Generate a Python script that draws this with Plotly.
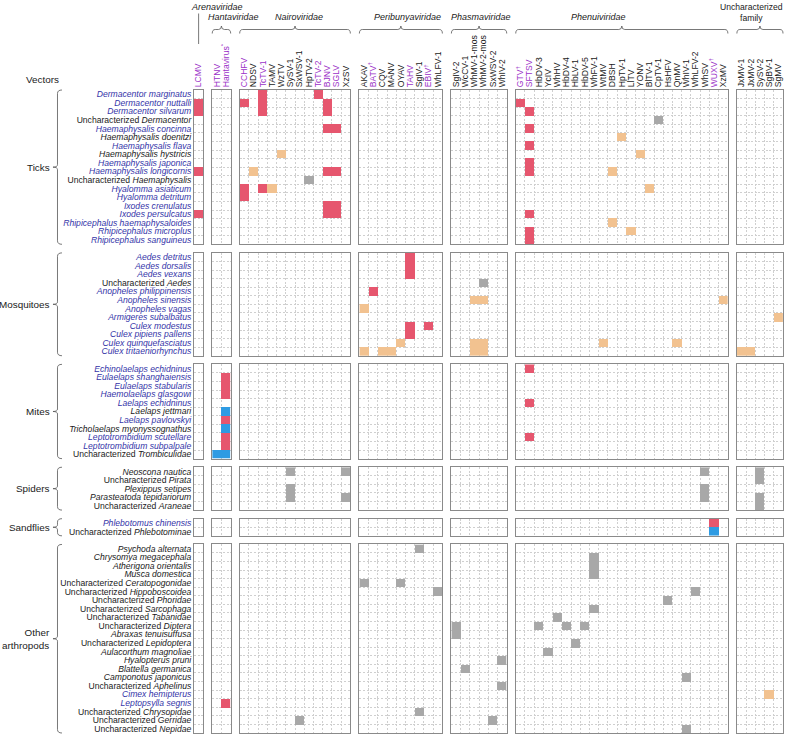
import plotly.graph_objects as go
from plotly.subplots import make_subplots

# ---------------- data ----------------
family_labels = ["Arenaviridae", "Hantaviridae", "Nairoviridae", "Peribunyaviridae",
                 "Phasmaviridae", "Phenuiviridae", "Uncharacterized<br>family"]
arena_viruses = ["LCMV"]
hanta_viruses = ["HTNV", "Hantavirus*"]
nairo_viruses = ["CCHFV", "NDSV", "TcTV-1", "TAMV", "WzTV", "SySV-1", "SxWSV-1",
                 "HpTV-2", "TcTV-2", "BJNV", "SGLV", "XzSV"]
peri_viruses = ["AKAV", "BATV†", "CQV", "MANV", "OYAV", "TAHV", "SgIV-1", "EBIV†", "WhLFV-1"]
phasma_viruses = ["SgIV-2", "WcCV-1", "WhMV-1-mos", "WhMV-2-mos", "SxWSV-2", "WhIV-2"]
phenui_viruses = ["GTV†", "SFTSV", "HbDV-3", "YcIV", "WhHV", "HbDV-4", "HbLV-1", "HbDV-5",
                  "WhFV-1", "WtMV", "DBSH", "HpTV-1", "LlTV", "YONV", "BlTV-1", "CpTV-1",
                  "HsHFV", "QnMV", "WhIV-1", "WhLFV-2", "WhSV", "WUXV†", "XzMV"]
unch_viruses = ["JxMV-1", "JxMV-2", "SySV-2", "SgBV-1", "SgMV"]
purple_viruses = ["LCMV", "HTNV", "Hantavirus*", "CCHFV", "TcTV-1", "TcTV-2", "BJNV", "SGLV",
                  "BATV†", "TAHV", "EBIV†", "GTV†", "SFTSV", "WUXV†"]

group_labels = ["Ticks", "Mosquitoes", "Mites", "Spiders", "Sandflies", "Other<br>arthropods"]
tick_vectors = ["Dermacentor marginatus", "Dermacentor nuttalli", "Dermacentor silvarum",
                "Uncharacterized Dermacentor", "Haemaphysalis concinna", "Haemaphysalis doenitzi",
                "Haemaphysalis flava", "Haemaphysalis hystricis", "Haemaphysalis japonica",
                "Haemaphysalis longicornis", "Uncharacterized Haemaphysalis", "Hyalomma asiaticum",
                "Hyalomma detritum", "Ixodes crenulatus", "Ixodes persulcatus",
                "Rhipicephalus haemaphysaloides", "Rhipicephalus microplus", "Rhipicephalus sanguineus"]
mosquito_vectors = ["Aedes detritus", "Aedes dorsalis", "Aedes vexans", "Uncharacterized Aedes",
                    "Anopheles philippinensis", "Anopheles sinensis", "Anopheles vagas",
                    "Armigeres subalbatus", "Culex modestus", "Culex pipiens pallens",
                    "Culex quinquefasciatus", "Culex tritaeniorhynchus"]
mite_vectors = ["Echinolaelaps echidninus", "Eulaelaps shanghaiensis", "Eulaelaps stabularis",
                "Haemolaelaps glasgowi", "Laelaps echidninus", "Laelaps jettmari",
                "Laelaps pavlovskyi", "Tricholaelaps myonyssognathus", "Leptotrombidium scutellare",
                "Leptotrombidium subpalpale", "Uncharacterized Trombiculidae"]
spider_vectors = ["Neoscona nautica", "Uncharacterized Pirata", "Plexippus setipes",
                  "Parasteatoda tepidariorum", "Uncharacterized Araneae"]
sandfly_vectors = ["Phlebotomus chinensis", "Uncharacterized Phlebotominae"]
other_vectors = ["Psychoda alternata", "Chrysomya megacephala", "Atherigona orientalis",
                 "Musca domestica", "Uncharacterized Ceratopogonidae", "Uncharacterized Hippoboscoidea",
                 "Uncharacterized Phoridae", "Uncharacterized Sarcophaga", "Uncharacterized Tabanidae",
                 "Uncharacterized Diptera", "Abraxas tenuisuffusa", "Uncharacterized Lepidoptera",
                 "Aulacorthum magnoliae", "Hyalopterus pruni", "Blattella germanica",
                 "Camponotus japonicus", "Uncharacterized Aphelinus", "Cimex hemipterus",
                 "Leptopsylla segnis", "Uncharacterized Chrysopidae", "Uncharacterized Gerridae",
                 "Uncharacterized Nepidae"]
blue_vectors = ["Dermacentor marginatus", "Dermacentor nuttalli", "Dermacentor silvarum",
                "Haemaphysalis concinna", "Haemaphysalis flava", "Haemaphysalis japonica",
                "Haemaphysalis longicornis", "Hyalomma asiaticum", "Hyalomma detritum",
                "Ixodes crenulatus", "Ixodes persulcatus", "Rhipicephalus haemaphysaloides",
                "Rhipicephalus microplus", "Rhipicephalus sanguineus",
                "Aedes detritus", "Aedes dorsalis", "Aedes vexans", "Anopheles philippinensis",
                "Anopheles sinensis", "Anopheles vagas", "Armigeres subalbatus", "Culex modestus",
                "Culex pipiens pallens", "Culex quinquefasciatus", "Culex tritaeniorhynchus",
                "Echinolaelaps echidninus", "Eulaelaps shanghaiensis", "Eulaelaps stabularis",
                "Haemolaelaps glasgowi", "Laelaps echidninus", "Laelaps pavlovskyi",
                "Leptotrombidium scutellare", "Leptotrombidium subpalpale",
                "Phlebotomus chinensis", "Cimex hemipterus", "Leptopsylla segnis"]

# detections: (vector, virus, category)
tick_hits = [
    ("Dermacentor nuttalli", "LCMV", "red"), ("Dermacentor silvarum", "LCMV", "red"),
    ("Haemaphysalis longicornis", "LCMV", "red"), ("Ixodes persulcatus", "LCMV", "red"),
    ("Dermacentor marginatus", "TcTV-1", "red"), ("Dermacentor marginatus", "TcTV-2", "red"),
    ("Dermacentor nuttalli", "CCHFV", "red"), ("Dermacentor nuttalli", "TcTV-1", "red"),
    ("Dermacentor nuttalli", "BJNV", "red"), ("Dermacentor silvarum", "TcTV-1", "red"),
    ("Dermacentor silvarum", "BJNV", "red"), ("Haemaphysalis concinna", "BJNV", "red"),
    ("Haemaphysalis concinna", "SGLV", "red"), ("Haemaphysalis hystricis", "WzTV", "orange"),
    ("Haemaphysalis longicornis", "NDSV", "orange"), ("Haemaphysalis longicornis", "BJNV", "red"),
    ("Haemaphysalis longicornis", "SGLV", "red"), ("Uncharacterized Haemaphysalis", "HpTV-2", "gray"),
    ("Hyalomma asiaticum", "CCHFV", "red"), ("Hyalomma asiaticum", "TcTV-1", "red"),
    ("Hyalomma asiaticum", "TAMV", "orange"), ("Hyalomma detritum", "CCHFV", "red"),
    ("Ixodes crenulatus", "BJNV", "red"), ("Ixodes crenulatus", "SGLV", "red"),
    ("Ixodes persulcatus", "BJNV", "red"), ("Ixodes persulcatus", "SGLV", "red"),
    ("Dermacentor nuttalli", "GTV†", "red"), ("Dermacentor silvarum", "SFTSV", "red"),
    ("Uncharacterized Dermacentor", "CpTV-1", "gray"), ("Haemaphysalis concinna", "SFTSV", "red"),
    ("Haemaphysalis doenitzi", "HpTV-1", "orange"), ("Haemaphysalis flava", "SFTSV", "red"),
    ("Haemaphysalis hystricis", "YONV", "orange"), ("Haemaphysalis japonica", "SFTSV", "red"),
    ("Haemaphysalis longicornis", "SFTSV", "red"), ("Haemaphysalis longicornis", "DBSH", "orange"),
    ("Hyalomma asiaticum", "BlTV-1", "orange"), ("Ixodes persulcatus", "SFTSV", "red"),
    ("Rhipicephalus haemaphysaloides", "DBSH", "orange"), ("Rhipicephalus microplus", "SFTSV", "red"),
    ("Rhipicephalus microplus", "LlTV", "orange"), ("Rhipicephalus sanguineus", "SFTSV", "red"),
]
mosquito_hits = [
    ("Aedes detritus", "TAHV", "red"), ("Aedes dorsalis", "TAHV", "red"), ("Aedes vexans", "TAHV", "red"),
    ("Uncharacterized Aedes", "WhMV-2-mos", "gray"), ("Anopheles philippinensis", "BATV†", "red"),
    ("Anopheles sinensis", "WhMV-1-mos", "orange"), ("Anopheles sinensis", "WhMV-2-mos", "orange"),
    ("Anopheles sinensis", "XzMV", "orange"), ("Anopheles vagas", "AKAV", "orange"),
    ("Armigeres subalbatus", "SgMV", "orange"), ("Culex modestus", "TAHV", "red"),
    ("Culex modestus", "EBIV†", "red"), ("Culex pipiens pallens", "TAHV", "red"),
    ("Culex quinquefasciatus", "OYAV", "orange"), ("Culex quinquefasciatus", "WhMV-1-mos", "orange"),
    ("Culex quinquefasciatus", "WhMV-2-mos", "orange"), ("Culex quinquefasciatus", "WtMV", "orange"),
    ("Culex quinquefasciatus", "QnMV", "orange"), ("Culex tritaeniorhynchus", "AKAV", "orange"),
    ("Culex tritaeniorhynchus", "CQV", "orange"), ("Culex tritaeniorhynchus", "MANV", "orange"),
    ("Culex tritaeniorhynchus", "WhMV-1-mos", "orange"), ("Culex tritaeniorhynchus", "WhMV-2-mos", "orange"),
    ("Culex tritaeniorhynchus", "JxMV-1", "orange"), ("Culex tritaeniorhynchus", "JxMV-2", "orange"),
]
mite_hits = [
    ("Eulaelaps shanghaiensis", "Hantavirus*", "red"), ("Eulaelaps stabularis", "Hantavirus*", "red"),
    ("Haemolaelaps glasgowi", "Hantavirus*", "red"), ("Laelaps jettmari", "Hantavirus*", "blue"),
    ("Laelaps pavlovskyi", "Hantavirus*", "red"), ("Tricholaelaps myonyssognathus", "Hantavirus*", "blue"),
    ("Leptotrombidium scutellare", "Hantavirus*", "red"), ("Leptotrombidium subpalpale", "Hantavirus*", "red"),
    ("Uncharacterized Trombiculidae", "HTNV", "blue"), ("Uncharacterized Trombiculidae", "Hantavirus*", "blue"),
    ("Echinolaelaps echidninus", "SFTSV", "red"), ("Laelaps echidninus", "SFTSV", "red"),
    ("Leptotrombidium scutellare", "SFTSV", "red"),
]
spider_hits = [
    ("Neoscona nautica", "SySV-1", "gray"), ("Neoscona nautica", "XzSV", "gray"),
    ("Neoscona nautica", "WhSV", "gray"), ("Neoscona nautica", "SySV-2", "gray"),
    ("Uncharacterized Pirata", "SySV-2", "gray"), ("Plexippus setipes", "SySV-1", "gray"),
    ("Plexippus setipes", "WhSV", "gray"), ("Parasteatoda tepidariorum", "SySV-1", "gray"),
    ("Parasteatoda tepidariorum", "XzSV", "gray"), ("Parasteatoda tepidariorum", "WhSV", "gray"),
    ("Parasteatoda tepidariorum", "SySV-2", "gray"), ("Uncharacterized Araneae", "SySV-2", "gray"),
]
sandfly_hits = [
    ("Phlebotomus chinensis", "WUXV†", "red"), ("Uncharacterized Phlebotominae", "WUXV†", "blue"),
]
other_hits = [
    ("Psychoda alternata", "SgIV-1", "gray"), ("Chrysomya megacephala", "WhFV-1", "gray"),
    ("Atherigona orientalis", "WhFV-1", "gray"), ("Musca domestica", "WhFV-1", "gray"),
    ("Uncharacterized Ceratopogonidae", "AKAV", "gray"), ("Uncharacterized Ceratopogonidae", "OYAV", "gray"),
    ("Uncharacterized Hippoboscoidea", "WhLFV-1", "gray"), ("Uncharacterized Hippoboscoidea", "WhLFV-2", "gray"),
    ("Uncharacterized Phoridae", "HsHFV", "gray"), ("Uncharacterized Sarcophaga", "WhFV-1", "gray"),
    ("Uncharacterized Tabanidae", "WhHV", "gray"), ("Uncharacterized Diptera", "SgIV-2", "gray"),
    ("Uncharacterized Diptera", "HbDV-3", "gray"), ("Uncharacterized Diptera", "HbDV-4", "gray"),
    ("Uncharacterized Diptera", "HbDV-5", "gray"), ("Abraxas tenuisuffusa", "SgIV-2", "gray"),
    ("Uncharacterized Lepidoptera", "HbLV-1", "gray"), ("Aulacorthum magnoliae", "YcIV", "gray"),
    ("Hyalopterus pruni", "WhIV-2", "gray"), ("Blattella germanica", "WcCV-1", "gray"),
    ("Camponotus japonicus", "WhIV-1", "gray"), ("Uncharacterized Aphelinus", "WhIV-2", "gray"),
    ("Cimex hemipterus", "SgBV-1", "orange"), ("Leptopsylla segnis", "Hantavirus*", "red"),
    ("Uncharacterized Chrysopidae", "SgIV-1", "gray"), ("Uncharacterized Gerridae", "SxWSV-1", "gray"),
    ("Uncharacterized Gerridae", "SxWSV-2", "gray"), ("Uncharacterized Nepidae", "WhIV-1", "gray"),
]

# ---------------- styles ----------------
W, H = 787, 734
# plot-area edges in page pixels
WL, WR, WT, WB = 194, 783, 90, 733
ML, MT = WL, WT
MR, MB = W - WR, H - WB
PW, PH = WR - WL, WB - WT
FONT = "Liberation Sans, Arial, Helvetica, sans-serif"
BLUE_TXT = "#3434A8"
PURPLE_TXT = "#9B32C8"
TXT = "#1a1a1a"
cat_codes = {"red": 1, "orange": 2, "gray": 3, "blue": 4}
cscale = [[0, "#E6566E"], [0.25, "#E6566E"], [0.25, "#F2C290"], [0.5, "#F2C290"],
          [0.5, "#A8A8A8"], [0.75, "#A8A8A8"], [0.75, "#2E9BE3"], [1, "#2E9BE3"]]

families = [arena_viruses, hanta_viruses, nairo_viruses, peri_viruses,
            phasma_viruses, phenui_viruses, unch_viruses]
groups = [tick_vectors, mosquito_vectors, mite_vectors, spider_vectors,
          sandfly_vectors, other_vectors]
all_hits = tick_hits + mosquito_hits + mite_hits + spider_hits + sandfly_hits + other_hits
hit_lookup = {(v, vi): cat_codes[c] for v, vi, c in all_hits}

ncols = [len(f) for f in families]
nrows = [len(g) for g in groups]
hgap, vgap = 9.0, 8.6

fig = make_subplots(rows=len(groups), cols=len(families),
                    column_widths=ncols, row_heights=nrows,
                    horizontal_spacing=hgap / PW, vertical_spacing=vgap / PH)


def virus_label(v):
    txt = v.replace("†", "<sup>†</sup>").replace("*", "<sup>*</sup>")
    if v in purple_viruses:
        return '<span style="color:%s">%s</span>' % (PURPLE_TXT, txt)
    return txt


def vector_label(v):
    if v.startswith("Uncharacterized "):
        txt = "Uncharacterized <i>%s</i>" % v[len("Uncharacterized "):]
    else:
        txt = "<i>%s</i>" % v
    if v in blue_vectors:
        return '<span style="color:%s">%s</span>' % (BLUE_TXT, txt)
    return txt


GRID = dict(showgrid=True, gridcolor="#cfcfcf", griddash="2px,1.6px", gridwidth=0.8,
            showline=True, mirror=True, linecolor="#8a8a8a", linewidth=1,
            ticks="", zeroline=False, fixedrange=True, tickson="boundaries")

for r, vecs in enumerate(groups, start=1):
    for c, virs in enumerate(families, start=1):
        z = [[hit_lookup.get((vec, vi)) for vi in virs] for vec in vecs]
        fig.add_trace(go.Heatmap(z=z, x=virs, y=vecs, colorscale=cscale, zmin=0.5, zmax=4.5,
                                 showscale=False, hoverinfo="skip", xgap=0, ygap=0),
                      row=r, col=c)
        fig.update_xaxes(type="category", categoryorder="array", categoryarray=virs,
                         range=[-0.5, len(virs) - 0.5],
                         showticklabels=(r == 1), side="top",
                         tickmode="array", tickvals=virs, ticktext=[virus_label(v) for v in virs],
                         tickangle=-90, tickfont=dict(size=8.6, color=TXT, family=FONT),
                         row=r, col=c, **GRID)
        fig.update_yaxes(type="category", categoryorder="array", categoryarray=vecs,
                         range=[len(vecs) - 0.5, -0.5],
                         showticklabels=(c == 1),
                         tickmode="array", tickvals=vecs, ticktext=[vector_label(v) for v in vecs],
                         tickfont=dict(size=8.6, color=TXT, family=FONT),
                         row=r, col=c, **GRID)


def px(x):
    return (x - WL) / PW


def py(y):
    return (WB - y) / PH


shapes = []
annotations = []
LINE = dict(color="#555555", width=0.8)

# panel pixel extents
cw = (PW - hgap * (len(families) - 1)) / sum(ncols)
rh = (PH - vgap * (len(groups) - 1)) / sum(nrows)
col_x = []
x = WL
for n in ncols:
    col_x.append((x, x + n * cw))
    x += n * cw + hgap
row_y = []
y = WT
for n in nrows:
    row_y.append((y, y + n * rh))
    y += n * rh + vgap

# top family braces / labels
for i, (x0, x1) in enumerate(col_x):
    xm = (x0 + x1) / 2
    if i == 0:
        shapes.append(dict(type="line", xref="paper", yref="paper", x0=px(xm), x1=px(xm),
                           y0=py(13.5), y1=py(44), line=LINE))
        continue
    yb, yl, yt = 33.5, 29.5, 26
    pts = "M %f,%f Q %f,%f %f,%f L %f,%f Q %f,%f %f,%f Q %f,%f %f,%f L %f,%f Q %f,%f %f,%f" % (
        px(x0), py(yb), px(x0), py(yl), px(x0 + 3), py(yl),
        px(xm - 3), py(yl), px(xm), py(yl), px(xm), py(yt),
        px(xm), py(yl), px(xm + 3), py(yl),
        px(x1 - 3), py(yl), px(x1), py(yl), px(x1), py(yb))
    shapes.append(dict(type="path", xref="paper", yref="paper", path=pts, line=LINE))

# (x centre, y centre, x anchor) in page pixels
fam_pos = [(216.7, 7, "center"), (233.3, 17, "center"), (298.8, 17, "center"),
           (407.5, 17, "center"), (481.2, 17, "center"), (598.3, 17, "center"),
           (785, 12.5, "right")]
for lab, (fx, fy, anc) in zip(family_labels, fam_pos):
    txt = lab if "<br>" in lab else "<i>%s</i>" % lab
    annotations.append(dict(text=txt, x=px(fx), y=py(fy), xref="paper", yref="paper",
                            showarrow=False, xanchor=anc, yanchor="middle", align="center",
                            font=dict(size=8.6 if anc == "right" else 9, color=TXT, family=FONT)))

# left group braces / labels
for lab, (y0, y1) in zip(group_labels, row_y):
    ym = (y0 + y1) / 2
    xe, xl, xt = 62, 57.5, 53
    rr = min(3.5, (y1 - y0) / 4)
    pts = "M %f,%f Q %f,%f %f,%f L %f,%f Q %f,%f %f,%f Q %f,%f %f,%f L %f,%f Q %f,%f %f,%f" % (
        px(xe), py(y0), px(xl), py(y0), px(xl), py(y0 + rr),
        px(xl), py(ym - 2.5), px(xl), py(ym), px(xt), py(ym),
        px(xl), py(ym), px(xl), py(ym + 2.5),
        px(xl), py(y1 - rr), px(xl), py(y1), px(xe), py(y1))
    shapes.append(dict(type="path", xref="paper", yref="paper", path=pts, line=LINE))
    annotations.append(dict(text=lab, x=px(51.5), y=py(ym), xref="paper", yref="paper",
                            showarrow=False, xanchor="right", yanchor="middle", align="right",
                            font=dict(size=9.9, color=TXT, family=FONT)))

annotations.append(dict(text="Vectors", x=px(61), y=py(79), xref="paper", yref="paper",
                        showarrow=False, xanchor="right", yanchor="middle",
                        font=dict(size=9.9, color=TXT, family=FONT)))

fig.update_layout(width=W, height=H, margin=dict(l=ML, r=MR, t=MT, b=MB, autoexpand=False),
                  paper_bgcolor="white", plot_bgcolor="white", showlegend=False,
                  shapes=shapes, annotations=annotations,
                  font=dict(family=FONT, size=9, color=TXT))

# the page's default body margin would push the figure off its canvas
fig.write_html("out.html", config={"displayModeBar": False},
               post_script="document.body.style.margin='0px';")
